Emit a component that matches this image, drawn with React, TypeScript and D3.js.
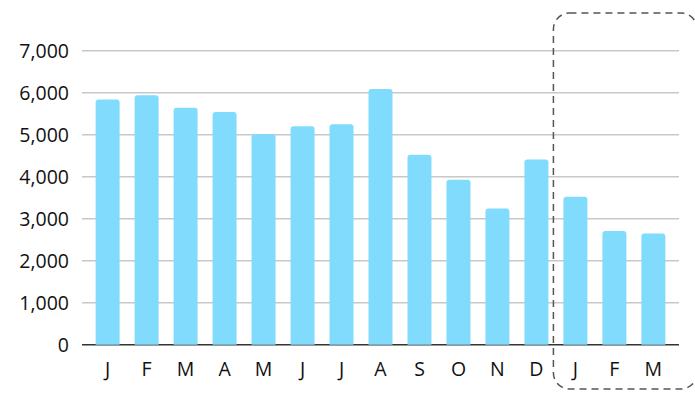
import React from "react";
import * as d3 from "d3";

const months = ["J", "F", "M", "A", "M", "J", "J", "A", "S", "O", "N", "D", "J", "F", "M"];
const values = [5840, 5940, 5640, 5540, 5010, 5200, 5250, 6090, 4520, 3930, 3240, 4410, 3520, 2710, 2650];
const yTicks = [0, 1000, 2000, 3000, 4000, 5000, 6000, 7000];
// index of the first month of the new year, highlighted by the dashed frame
const highlightStart = 12;

const W = 695;
const H = 405;
const left = 82;
const right = 679;
const top = 50.7;
const bottom = 344.7;

export default function App() {
  const keys = months.map((_, i) => String(i));
  const x = d3
    .scaleBand<string>()
    .domain(keys)
    .range([left, right])
    .paddingInner(0.385)
    .paddingOuter(0.35);
  const y = d3.scaleLinear().domain([0, 7000]).range([bottom, top]);
  const fmt = d3.format(",");
  const bw = x.bandwidth();
  const r = 3;

  const barPath = (i: number) => {
    const x0 = x(String(i))!;
    const y0 = y(values[i]);
    const p = d3.path();
    p.moveTo(x0, bottom);
    p.lineTo(x0, y0 + r);
    p.arcTo(x0, y0, x0 + r, y0, r);
    p.lineTo(x0 + bw - r, y0);
    p.arcTo(x0 + bw, y0, x0 + bw, y0 + r, r);
    p.lineTo(x0 + bw, bottom);
    p.closePath();
    return p.toString();
  };

  const frameX = x(String(highlightStart))! - x.step() * x.paddingInner() / 2 - 2.5;
  const frameRight = 697;

  return (
    <svg width={W} height={H} style={{ position: "absolute", left: 0, top: 0, background: "#fff" }}>
      {yTicks.map((t) => (
        <g key={t}>
          {t > 0 && (
            <line x1={left} x2={right} y1={y(t)} y2={y(t)} stroke="#c8c8c8" strokeWidth={1.5} />
          )}
          <text
            x={69}
            y={y(t)}
            dy="0.36em"
            textAnchor="end"
            fontFamily="'Open Sans', sans-serif"
            fontSize={19.5}
            fill="#111"
          >
            {fmt(t)}
          </text>
        </g>
      ))}
      <line x1={left} x2={right} y1={bottom} y2={bottom} stroke="#333" strokeWidth={1.5} />
      {values.map((_, i) => (
        <path key={i} d={barPath(i)} fill="#80dbfd" />
      ))}
      {months.map((m, i) => (
        <text
          key={i}
          x={x(String(i))! + bw / 2}
          y={376}
          textAnchor="middle"
          fontFamily="'Open Sans', sans-serif"
          fontSize={19.5}
          fill="#111"
        >
          {m}
        </text>
      ))}
      <rect
        x={frameX}
        y={13}
        width={frameRight - frameX}
        height={376}
        rx={16}
        ry={16}
        fill="none"
        stroke="#555"
        strokeWidth={1.5}
        strokeDasharray="7,5"
      />
    </svg>
  );
}
